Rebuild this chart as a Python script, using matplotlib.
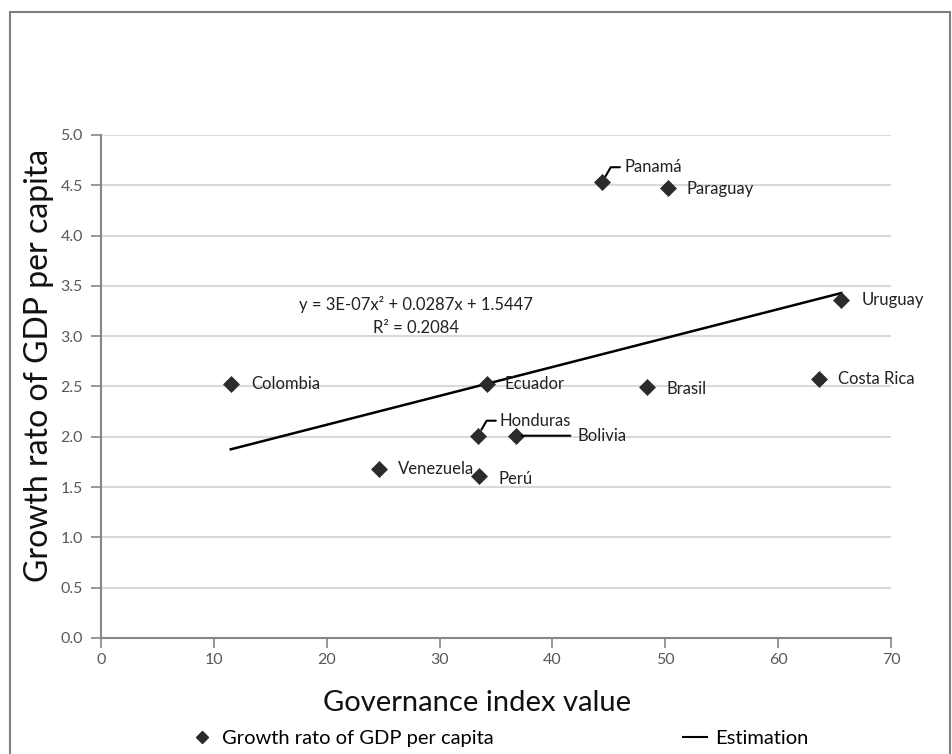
import numpy as np
import matplotlib
matplotlib.use('Agg')
import matplotlib.pyplot as plt
from matplotlib.patches import Rectangle
from matplotlib.lines import Line2D

plt.rcParams['font.family'] = ['Lato', 'DejaVu Sans']

# Governance index vs GDP per capita growth, by country
countries = ['Colombia', 'Ecuador', 'Honduras', 'Bolivia', 'Venezuela', 'Perú',
             'Brasil', 'Costa Rica', 'Uruguay', 'Panamá', 'Paraguay']
governance = [11.5, 34.2, 33.4, 36.8, 24.6, 33.5, 48.4, 63.6, 65.6, 44.4, 50.2]
growth = [2.52, 2.52, 2.01, 2.01, 1.68, 1.61, 2.49, 2.57, 3.36, 4.53, 4.47]

# quadratic trend coefficients (a x^2 + b x + c) and fit quality
trend_coef = [3e-07, 0.0287, 1.5447]
r_squared = 0.2084

x_ticks = np.arange(0, 71, 10)
y_ticks = np.arange(0, 5.01, 0.5)

# label offsets in pixels from each point
label_offset = {
    'Colombia': (20, 0), 'Ecuador': (18, 0), 'Honduras': (22, 15),
    'Bolivia': (61, 0), 'Venezuela': (19, 0), 'Perú': (19, -3),
    'Brasil': (19, -2), 'Costa Rica': (19, 0), 'Uruguay': (20, 0),
    'Panamá': (22, 15), 'Paraguay': (19, -1),
}
label_size = 12

fig = plt.figure(figsize=(9.52, 7.54), dpi=100)
ax = fig.add_axes([101 / 952, 0.154, 790 / 952, 0.667])

# outer chart frame
fig.patches.append(Rectangle((10 / 952, -0.05), 940 / 952, 1.05 - 12 / 754,
                             transform=fig.transFigure, fill=False,
                             edgecolor='#7f7f7f', lw=1.5))

ax.scatter(governance, growth, marker='D', s=75, color='#2b2b2b', zorder=3,
           label='Growth rato of GDP per capita', linewidths=0)

xs = np.linspace(min(governance), max(governance), 100)
ax.plot(xs, np.polyval(trend_coef, xs), color='black', lw=1.8, zorder=2,
        label='Estimation')

for name, gx, gy in zip(countries, governance, growth):
    dx, dy = label_offset[name]
    if name in ('Panamá', 'Honduras'):
        ax.annotate(name, (gx, gy), xytext=(dx, dy), textcoords='offset pixels',
                    fontsize=label_size, va='center', ha='left', color='#222222',
                    arrowprops=dict(arrowstyle='-', lw=1.5, color='black',
                                    shrinkA=1, shrinkB=5,
                                    connectionstyle='angle,angleA=0,angleB=60,rad=0'))
    elif name == 'Bolivia':
        ax.annotate(name, (gx, gy), xytext=(dx, dy), textcoords='offset pixels',
                    fontsize=label_size, va='center', ha='left', color='#222222',
                    arrowprops=dict(arrowstyle='-', lw=1.5, color='black',
                                    shrinkA=3, shrinkB=4))
    else:
        ax.annotate(name, (gx, gy), xytext=(dx, dy), textcoords='offset pixels',
                    fontsize=label_size, va='center', ha='left', color='#222222')

eq = 'y = 3E-07x² + 0.0287x + 1.5447\nR² = %.4f' % r_squared
ax.text(27.9, 3.2, eq, fontsize=label_size, ha='center', va='center',
        linespacing=1.5, color='#222222')

ax.set_xlim(0, 70)
ax.set_ylim(0, 5)
ax.set_xticks(x_ticks)
ax.set_yticks(y_ticks)
ax.set_yticklabels(['%.1f' % v for v in y_ticks])
ax.yaxis.grid(True, color='#d9d9d9', lw=1.5)
ax.set_axisbelow(True)
for side in ('top', 'right'):
    ax.spines[side].set_visible(False)
for side in ('left', 'bottom'):
    ax.spines[side].set_color('#868686')
    ax.spines[side].set_linewidth(1.5)
ax.tick_params(axis='both', colors='#868686', labelcolor='#595959',
               labelsize=11.5, length=7, width=1.2)
ax.tick_params(axis='y', direction='out', pad=6)
ax.tick_params(axis='x', direction='out', pad=4)

fig.text(477 / 952, 1 - 703 / 754, 'Governance index value', fontsize=21,
         ha='center', va='center', color='#111111')
fig.text(39 / 952, 1 - 365 / 754, 'Growth rato of GDP per capita', fontsize=23,
         ha='center', va='center', rotation=90, color='#111111')

handles = [
    Line2D([], [], marker='D', ls='none', color='#2b2b2b', markersize=6),
    Line2D([], [], color='black', lw=1.5),
]
fig.legend(handles, ['Growth rato of GDP per capita', 'Estimation'],
           loc='center', bbox_to_anchor=(499 / 952, 1 - 738 / 754), ncol=2,
           frameon=False, fontsize=14.5, handlelength=1.2, handletextpad=0.4,
           columnspacing=9.4)

fig.savefig('out.png', dpi=100)
